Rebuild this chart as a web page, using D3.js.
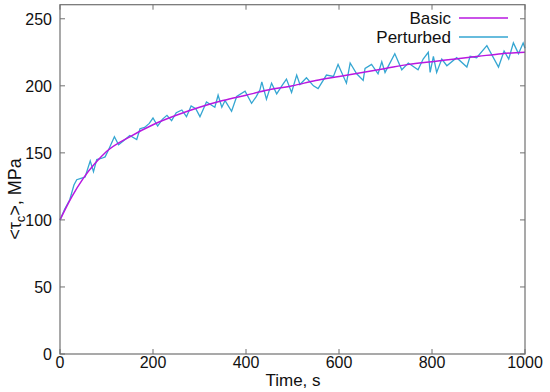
<!DOCTYPE html>
<html><head><meta charset="utf-8">
<script src="https://cdn.jsdelivr.net/npm/d3@7"></script>
<style>body{margin:0;background:#fff}svg{display:block}text{font-family:"Liberation Sans",Arial,sans-serif;fill:#111}</style>
</head><body><svg id="c" width="550" height="392"></svg>
<script>
const xTicks = [0, 200, 400, 600, 800, 1000];
const yTicks = [0, 50, 100, 150, 200, 250];
const basicT = [0, 25, 50, 75, 100, 150, 200, 250, 300, 350, 400, 450, 500, 550, 600, 650, 700, 750, 800, 850, 900, 950, 1000];
const basicV = [100, 117, 131, 142, 151, 162, 171, 178, 184, 189, 193, 197, 200, 204, 207, 210, 213, 216, 218, 220, 222, 224, 225];
const pertT = [0,10,21,30,36,45,54,65,72,79,90,97,104,117,126,140,150,165,172,182,
  192,200,210,220,230,240,250,262,272,282,292,301,315,333,340,348,355,369,380,398,
  412,422,430,434,444,455,466,477,487,498,509,516,530,545,555,573,588,598,616,624,
  638,652,656,670,684,692,699,720,735,749,770,781,792,796,803,810,821,832,853,875,
  882,896,918,943,955,965,975,986,996,1000];
const pertV = [100,108,115,126,130,131,132,144,136,145,146,147,152,162,156,160,163,160,168,169,
  172,176,170,175,178,174,180,182,177,185,183,177,188,184,193,184,189,181,192,196,
  187,192,197,203,190,202,194,200,205,195,208,201,206,200,198,208,207,216,202,217,
  209,204,213,216,209,218,210,224,212,217,212,220,225,210,222,210,220,215,221,214,
  222,221,230,214,226,220,232,224,232,228];

const svg = d3.select("#c");
const L = 60, R = 525, T = 4.7, B = 354;
const x = d3.scaleLinear().domain([0, 1000]).range([L, R]);
const y = d3.scaleLinear().domain([0, 260.5]).range([B, T]);
const axisCol = "#707070";

const g = svg.append("g");
xTicks.forEach(t => {
  g.append("line").attr("x1", x(t)).attr("x2", x(t)).attr("y1", B).attr("y2", B - 5).attr("stroke", axisCol);
  g.append("line").attr("x1", x(t)).attr("x2", x(t)).attr("y1", T).attr("y2", T + 5).attr("stroke", axisCol);
  g.append("text").attr("x", x(t)).attr("y", 368).attr("text-anchor", "middle").attr("font-size", 16).text(t);
});
yTicks.forEach(t => {
  g.append("line").attr("x1", L).attr("x2", L + 5).attr("y1", y(t)).attr("y2", y(t)).attr("stroke", axisCol);
  g.append("line").attr("x1", R).attr("x2", R - 5).attr("y1", y(t)).attr("y2", y(t)).attr("stroke", axisCol);
  g.append("text").attr("x", 52).attr("y", y(t) + 6).attr("text-anchor", "end").attr("font-size", 16).text(t);
});

const lp = d3.line().x((d, i) => x(pertT[i])).y(d => y(d));
svg.append("path").attr("d", lp(pertV)).attr("fill", "none").attr("stroke", "#35a6d2").attr("stroke-width", 1.3);
const lb = d3.line().x((d, i) => x(basicT[i])).y(d => y(d)).curve(d3.curveMonotoneX);
svg.append("path").attr("d", lb(basicV)).attr("fill", "none").attr("stroke", "#b818e0").attr("stroke-width", 1.5);

svg.append("rect").attr("x", L).attr("y", T).attr("width", R - L).attr("height", B - T)
  .attr("fill", "none").attr("stroke", axisCol).attr("stroke-width", 1.2);

const leg = [["Basic", "#b818e0", 18], ["Perturbed", "#35a6d2", 37]];
leg.forEach(([name, col, yy]) => {
  svg.append("text").attr("x", 451).attr("y", yy + 6).attr("text-anchor", "end").attr("font-size", 17).text(name);
  svg.append("line").attr("x1", 459).attr("x2", 508).attr("y1", yy).attr("y2", yy).attr("stroke", col).attr("stroke-width", 1.5);
});

svg.append("text").attr("x", 293).attr("y", 386).attr("text-anchor", "middle").attr("font-size", 17).text("Time, s");
const yl = svg.append("text").attr("transform", "translate(21,199) rotate(-90)").attr("text-anchor", "middle").attr("font-size", 18);
yl.append("tspan").text("<τ");
yl.append("tspan").attr("font-size", 13).attr("dy", 4).text("c");
yl.append("tspan").attr("dy", -4).text(">, MPa");
</script></body></html>
